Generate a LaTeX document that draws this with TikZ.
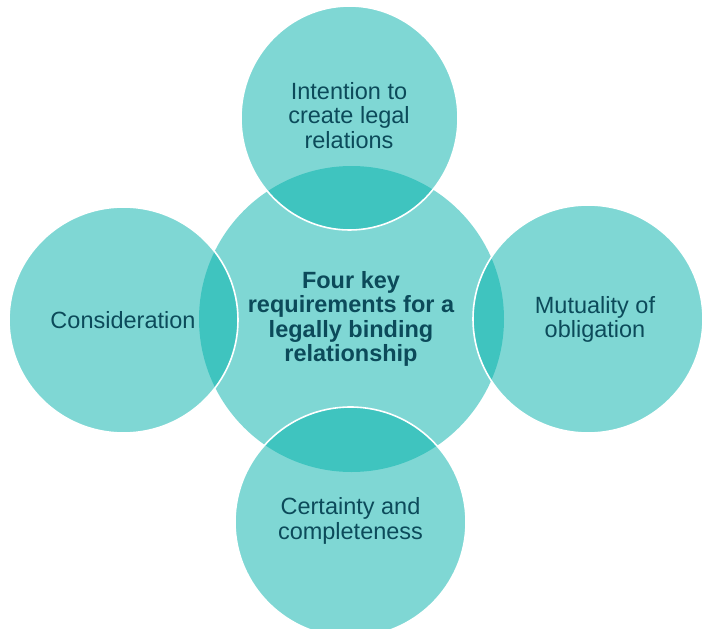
\documentclass[tikz,border=0pt]{standalone}
\usepackage{fontspec}
\setmainfont{Liberation Sans}
\definecolor{teal0}{RGB}{0,176,170}
\definecolor{txt}{RGB}{12,74,90}
\begin{document}
\begin{tikzpicture}[x=1pt,y=-1pt,
  blob/.style={fill=teal0,fill opacity=0.5},
  outer/.style={blob,draw=white,draw opacity=1,line width=1.6pt},
  lbl/.style={text=txt,align=center,font=\fontsize{23.5}{24.3}\selectfont,inner sep=0pt,text opacity=1},
  bold/.style={lbl,font=\fontsize{23.5}{24.3}\selectfont\bfseries}]
\useasboundingbox (0,0) rectangle (705,629);
\fill[blob] (351.5,319) ellipse [x radius=152.5,y radius=153];
\draw[outer] (349.5,118) ellipse [x radius=108.5,y radius=112];
\draw[outer] (123.5,320) ellipse [x radius=114.5,y radius=113];
\draw[outer] (588,319) ellipse [x radius=115,y radius=114];
\draw[outer] (350.5,522) ellipse [x radius=115.5,y radius=115];
\node[bold] (c) at (351,319) {Four key\\requirements for a\\legally binding\\relationship};
\node[lbl] (t) at (349,115.3) {Intention to\\create legal\\relations};
\node[lbl,anchor=base] (l) at (123,328) {Consideration};
\node[lbl] (r) at (595,319.2) {Mutuality of\\obligation};
\node[lbl] (b) at (350.5,521) {Certainty and\\completeness};
\end{tikzpicture}
\end{document}
